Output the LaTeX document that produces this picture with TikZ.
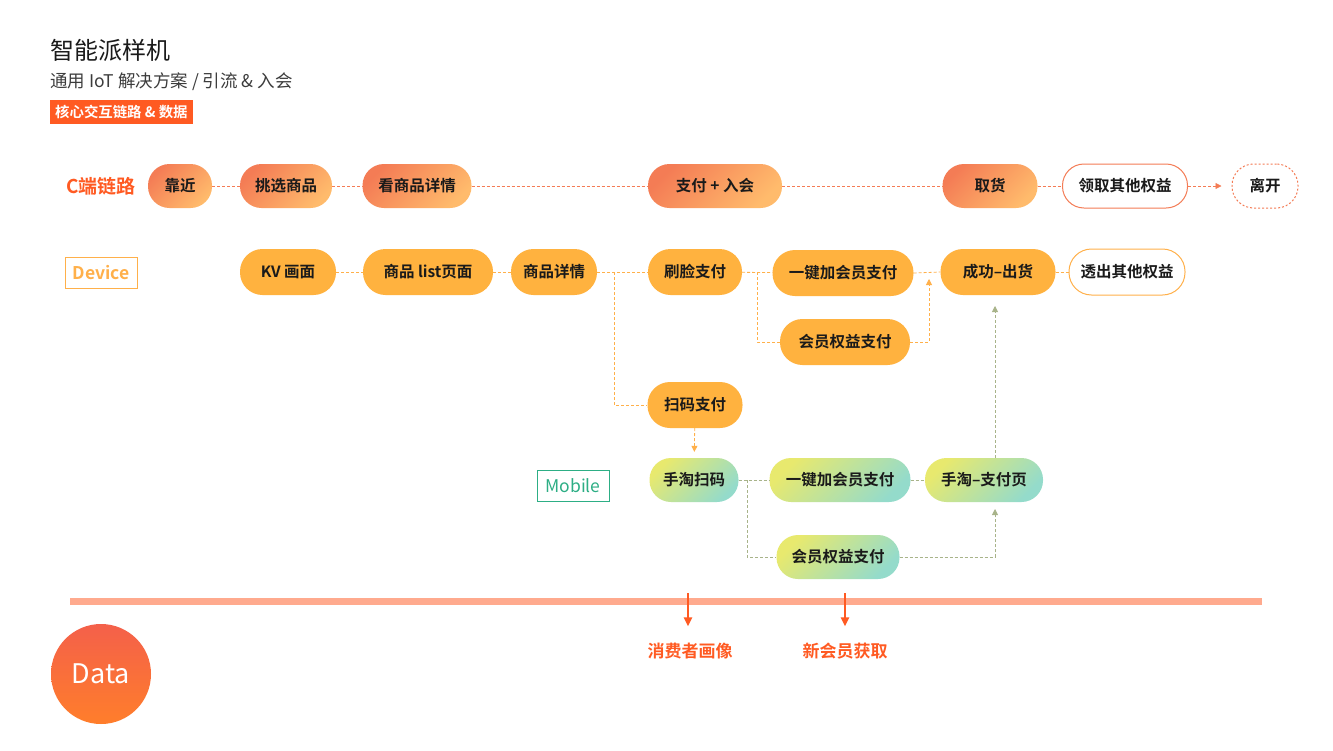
\documentclass[tikz,border=0pt]{standalone}
\usepackage{fontspec}
\setmainfont{Noto Sans CJK SC}[BoldFont={Noto Sans CJK SC Bold}]
\usetikzlibrary{arrows.meta,positioning}

\definecolor{redorange}{HTML}{FF5A22}
\definecolor{gradA}{HTML}{F47C55}
\definecolor{gradB}{HTML}{FFBB6C}
\definecolor{devfill}{HTML}{FFB23F}
\definecolor{devline}{HTML}{FFB04A}
\definecolor{mobgreen}{HTML}{2DAE85}
\definecolor{mobA}{HTML}{E8E96E}
\definecolor{mobB}{HTML}{94DBCB}
\definecolor{mobline}{HTML}{A8B389}
\definecolor{barcol}{HTML}{FFAA8E}
\definecolor{dataA}{HTML}{F4604A}
\definecolor{dataB}{HTML}{FF7E2B}
\definecolor{ink}{HTML}{1A1A1A}

\begin{document}
\begin{tikzpicture}[x=1pt, y=-1pt,
    pill/.style={rectangle, rounded corners=21.5pt, minimum height=44pt, inner xsep=4pt,
                 font=\fontsize{15.5}{18}\selectfont\bfseries, text=ink},
    cnode/.style={pill, top color=gradA, bottom color=gradB, shading angle=45},
    cout/.style={pill, draw=gradA, line width=1pt, fill=white},
    dnode/.style={pill, rounded corners=22.5pt, minimum height=46pt, fill=devfill},
    dout/.style={pill, rounded corners=22.5pt, minimum height=46pt, draw=devline,
                 line width=1pt, fill=white},
    mnode/.style={pill, top color=mobA, bottom color=mobB, shading angle=45},
    tag/.style={draw, line width=0.8pt, minimum width=72pt, minimum height=31pt,
                font=\fontsize{17.5}{20}\selectfont},
    cline/.style={draw=gradA, line width=0.8pt, dash pattern=on 3pt off 2pt},
    dline/.style={draw=devline, line width=0.8pt, dash pattern=on 3pt off 2pt},
    mline/.style={draw=mobline, line width=0.8pt, dash pattern=on 3pt off 2pt},
    tip/.style={-{Triangle[length=6pt, width=6pt]}},
    dataarr/.style={-{Triangle[length=9pt, width=8pt]}, line width=2.5pt, redorange},
    datalab/.style={font=\fontsize{17}{20}\selectfont\bfseries, text=redorange}
  ]
  \useasboundingbox[fill=white] (0,0) rectangle (1333,750);

  % header
  \node[anchor=west, inner sep=0pt, font=\fontsize{24}{28}\selectfont, text=ink]
    (title) at (50,50) {智能派样机};
  \node[anchor=west, inner sep=0pt, font=\fontsize{17.5}{20}\selectfont, text=ink!85]
    (subtitle) at (50,82) {通用 IoT 解决方案 / 引流 \& 入会};
  \node[anchor=west, fill=redorange, text=white, inner xsep=5pt, minimum height=24pt,
        font=\fontsize{14.4}{16}\selectfont\bfseries]
    (badge) at (50,112) {核心交互链路 \& 数据};

  % C端链路
  \node[font=\fontsize{19}{22}\selectfont\bfseries, text=redorange] (crow) at (101,186) {C端链路};
  \node[cnode, minimum width=64pt]  (kj)   at (180,186)  {靠近};
  \node[cnode, minimum width=92pt]  (tx)   at (286,186)  {挑选商品};
  \node[cnode, minimum width=109pt] (kxq)  at (417,186)  {看商品详情};
  \node[cnode, minimum width=134pt] (zf)   at (715,186)  {支付 + 入会};
  \node[cnode, minimum width=95pt]  (qh)   at (990,186)  {取货};
  \node[cout, minimum width=125pt]  (lq)   at (1125,186) {领取其他权益};
  \node[pill, draw=gradA, line width=1pt, dash pattern=on 2pt off 2pt,
        minimum width=66pt]          (lk)   at (1265,186) {离开};
  \draw[cline] (kj) -- (tx);
  \draw[cline] (tx) -- (kxq);
  \draw[cline] (kxq) -- (zf);
  \draw[cline] (zf) -- (qh);
  \draw[cline] (qh) -- (lq);
  \draw[cline, tip, gradA, shorten >=10pt] (lq) -- (lk);

  % Device
  \node[tag, draw=devline, text=devline] (dev) at (101,273) {\bfseries Device};
  \node[dnode, minimum width=96pt]  (kv)   at (288,272)  {KV 画面};
  \node[dnode, minimum width=130pt] (lst)  at (428,272)  {商品 list页面};
  \node[dnode, minimum width=86pt]  (xq)   at (554,272)  {商品详情};
  \node[dnode, minimum width=94pt]  (sl)   at (695,272)  {刷脸支付};
  \node[dnode, minimum width=141pt] (yj)   at (843,273)  {一键加会员支付};
  \node[dnode, minimum width=115pt] (ch)   at (998,272)  {成功–出货};
  \node[dout, minimum width=116pt]  (tc)   at (1127,272) {透出其他权益};
  \node[dnode, minimum width=130pt] (hy)   at (845,342)  {会员权益支付};
  \node[dnode, minimum width=95pt]  (sm)   at (695,405)  {扫码支付};
  \coordinate (b1) at (614,272);
  \coordinate (b2) at (757,272);
  \coordinate (t1) at (929,279);
  \draw[dline] (kv) -- (lst);
  \draw[dline] (lst) -- (xq);
  \draw[dline] (xq) -- (sl);
  \draw[dline] (b1) |- (sm.west);
  \draw[dline] (sl) -- (yj);
  \draw[dline] (b2) |- (hy.west);
  \draw[dline] (yj.east) -- (ch.west);
  \draw[dline, tip, devline] (hy.east) -| (t1);
  \draw[dline] (ch) -- (tc);

  % Mobile
  \node[tag, draw=mobgreen, text=mobgreen] (mob) at (573,486) {Mobile};
  \node[mnode, minimum width=89pt]  (ms)   at (694,480)  {手淘扫码};
  \node[mnode, minimum width=141pt] (myj)  at (840,480)  {一键加会员支付};
  \node[mnode, minimum width=118pt] (mzf)  at (984,480)  {手淘–支付页};
  \node[mnode, minimum width=123pt] (mhy)  at (838,557)  {会员权益支付};
  \coordinate (b3) at (747,480);
  \coordinate (t2) at (995,509);
  \coordinate (t3) at (995,306);
  \draw[dline, tip, devline, shorten >=6pt] (sm) -- (ms);
  \draw[mline] (ms) -- (myj);
  \draw[mline] (b3) |- (mhy.west);
  \draw[mline] (myj) -- (mzf);
  \draw[mline, tip, mobline] (mhy.east) -| (t2);
  \draw[mline, tip, mobline] (mzf.north -| t3) -- (t3);

  % Data
  \fill[barcol] (70,597.5) rectangle (1262,604.5);
  \coordinate (d1) at (688,593);
  \coordinate (d2) at (845,593);
  \node[datalab] (hx) at (690,651) {消费者画像};
  \node[datalab] (xhy) at (845,651) {新会员获取};
  \draw[dataarr, shorten >=13pt] (d1) -- (d1 |- hx.north);
  \draw[dataarr, shorten >=13pt] (d2) -- (d2 |- xhy.north);
  \node[circle, minimum size=100pt, top color=dataA, bottom color=dataB,
        text=white, font=\fontsize{27}{30}\selectfont] (data) at (101,674) {Data};
\end{tikzpicture}
\end{document}
